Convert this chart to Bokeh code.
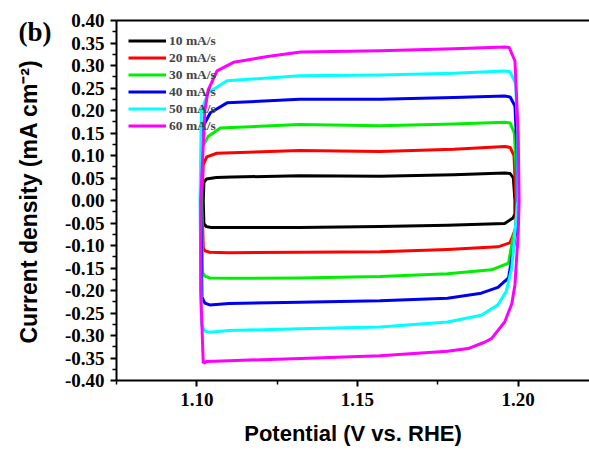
import math
from bokeh.plotting import figure
from bokeh.models import FixedTicker, NumeralTickFormatter, LinearAxis, Label, Range1d
from bokeh.embed import file_html
from bokeh.resources import INLINE

# ---- data ----
series_labels = ["10 mA/s", "20 mA/s", "30 mA/s", "40 mA/s", "50 mA/s", "60 mA/s"]
series_colors = ["#000000", "#FF0000", "#00EE00", "#0000F0", "#00FFFF", "#FF00FF"]

x_10 = [1.1022, 1.1020, 1.1022, 1.1030, 1.1060, 1.1110, 1.1320, 1.1570, 1.1800, 1.1958, 1.1975, 1.1985,
        1.1990, 1.1990, 1.1984, 1.1958, 1.1780, 1.1570, 1.1320, 1.1100, 1.1045, 1.1030, 1.1022]
y_10 = [-0.052, 0.000, 0.040, 0.048, 0.051, 0.052, 0.055, 0.054, 0.057, 0.061, 0.060, 0.050,
        0.000, -0.030, -0.039, -0.051, -0.055, -0.058, -0.060, -0.060, -0.060, -0.058, -0.052]

x_20 = [1.1020, 1.1016, 1.1020, 1.1031, 1.1062, 1.1320, 1.1570, 1.1800, 1.1958, 1.1975, 1.1987, 1.1993,
        1.1993, 1.1980, 1.1974, 1.1937, 1.1780, 1.1570, 1.1320, 1.1100, 1.1040, 1.1025, 1.1020]
y_20 = [-0.105, 0.000, 0.080, 0.097, 0.105, 0.111, 0.109, 0.114, 0.120, 0.118, 0.100, 0.000,
        -0.060, -0.085, -0.094, -0.103, -0.109, -0.114, -0.115, -0.116, -0.115, -0.112, -0.105]

x_30 = [1.1018, 1.1014, 1.1018, 1.1035, 1.1073, 1.1320, 1.1570, 1.1800, 1.1958, 1.1975, 1.1988, 1.1995,
        1.1995, 1.1982, 1.1970, 1.1917, 1.1780, 1.1570, 1.1320, 1.1100, 1.1040, 1.1025, 1.1018]
y_30 = [-0.160, 0.000, 0.120, 0.142, 0.161, 0.169, 0.166, 0.170, 0.174, 0.172, 0.150, 0.050,
        -0.050, -0.090, -0.139, -0.154, -0.163, -0.169, -0.172, -0.173, -0.172, -0.168, -0.160]

x_40 = [1.1016, 1.1012, 1.1016, 1.1042, 1.1094, 1.1320, 1.1570, 1.1800, 1.1958, 1.1975, 1.1990, 1.1997,
        1.1997, 1.1984, 1.1970, 1.1937, 1.1885, 1.1780, 1.1570, 1.1320, 1.1100, 1.1040, 1.1025, 1.1016]
y_40 = [-0.215, 0.000, 0.160, 0.195, 0.217, 0.225, 0.225, 0.229, 0.232, 0.230, 0.210, 0.100,
        -0.050, -0.112, -0.172, -0.193, -0.206, -0.217, -0.223, -0.226, -0.229, -0.232, -0.228, -0.215]

x_50 = [1.1014, 1.1010, 1.1014, 1.1036, 1.1094, 1.1320, 1.1570, 1.1800, 1.1958, 1.1975, 1.1992, 1.1999,
        1.1999, 1.1980, 1.1963, 1.1937, 1.1885, 1.1780, 1.1570, 1.1320, 1.1100, 1.1040, 1.1025, 1.1014]
y_50 = [-0.275, 0.000, 0.200, 0.240, 0.266, 0.277, 0.279, 0.283, 0.288, 0.286, 0.260, 0.150,
        0.000, -0.150, -0.202, -0.232, -0.255, -0.270, -0.281, -0.285, -0.289, -0.293, -0.290, -0.275]

x_60 = [1.1020, 1.1012, 1.1012, 1.1025, 1.1035, 1.1063, 1.1114, 1.1220, 1.1323, 1.1570, 1.1800, 1.1958,
        1.1972, 1.1990, 1.2000, 1.2003, 1.2000, 1.1990, 1.1980, 1.1958, 1.1917, 1.1895, 1.1844, 1.1780,
        1.1570, 1.1323, 1.1100, 1.1030, 1.1020]
y_60 = [-0.362, -0.200, 0.000, 0.200, 0.245, 0.288, 0.307, 0.320, 0.330, 0.333, 0.337, 0.341,
        0.340, 0.310, 0.150, 0.000, -0.075, -0.187, -0.230, -0.270, -0.307, -0.315, -0.329, -0.335,
        -0.345, -0.351, -0.356, -0.358, -0.362]

xs = [x_10, x_20, x_30, x_40, x_50, x_60]
ys = [y_10, y_20, y_30, y_40, y_50, y_60]

x_major = [1.10, 1.15, 1.20]
x_minor = [1.075, 1.125, 1.175, 1.225]
y_major = [-0.40, -0.35, -0.30, -0.25, -0.20, -0.15, -0.10, -0.05, 0.00,
           0.05, 0.10, 0.15, 0.20, 0.25, 0.30, 0.35, 0.40]
y_minor = [-0.375, -0.325, -0.275, -0.225, -0.175, -0.125, -0.075, -0.025,
           0.025, 0.075, 0.125, 0.175, 0.225, 0.275, 0.325, 0.375]

# ---- figure ----
p = figure(width=589, height=451, output_backend="svg", toolbar_location=None,
           x_range=Range1d(1.075, 1.2222), y_range=Range1d(-0.40, 0.40),
           min_border_left=116, min_border_right=0, min_border_top=20, min_border_bottom=71,
           x_axis_label="Potential (V vs. RHE)")
p.outline_line_color = None
p.grid.visible = False
p.background_fill_color = "white"
p.border_fill_color = "white"

for xv, yv, c, lab in zip(xs, ys, series_colors, series_labels):
    p.line(xv, yv, line_color=c, line_width=3, legend_label=lab, line_join="round")

tick_font = "Liberation Serif"
title_font = "Liberation Sans"

xa = p.xaxis[0]
xa.ticker = FixedTicker(ticks=x_major, minor_ticks=x_minor)
xa.formatter = NumeralTickFormatter(format="0.00")
ya = p.yaxis[0]
ya.ticker = FixedTicker(ticks=y_major, minor_ticks=y_minor)
ya.formatter = NumeralTickFormatter(format="0.00")

for ax in (xa, ya):
    ax.axis_line_width = 2
    ax.axis_line_color = "black"
    ax.major_tick_line_width = 2
    ax.minor_tick_line_width = 1.5
    ax.major_tick_out = 6
    ax.major_tick_in = 0
    ax.minor_tick_out = 4
    ax.minor_tick_in = 0
    ax.major_label_text_font = tick_font
    ax.major_label_text_font_style = "bold"
    ax.major_label_text_color = "black"
    ax.axis_label_text_font = title_font
    ax.axis_label_text_font_style = "bold"
    ax.axis_label_text_color = "black"

xa.major_label_text_font_size = "19px"
xa.major_label_standoff = 6
xa.axis_label_standoff = 12
xa.axis_label_text_font_size = "22px"
ya.major_label_text_font_size = "19px"
ya.major_label_standoff = 6
ya.axis_label_standoff = 0

top = LinearAxis(ticker=FixedTicker(ticks=[]), major_label_text_font_size="0px",
                 major_tick_out=0, minor_tick_out=0, major_label_standoff=0,
                 axis_line_width=2, axis_line_color="black")
p.add_layout(top, "above")

lg = p.legend[0]
lg.location = "top_left"
lg.margin = 12
lg.padding = 0
lg.spacing = 0
lg.glyph_height = 17
lg.label_height = 17
lg.glyph_width = 38
lg.label_standoff = 3
lg.label_text_font = tick_font
lg.label_text_font_style = "bold"
lg.label_text_font_size = "13.5px"
lg.background_fill_alpha = 0
lg.border_line_color = None

# y-axis title, drawn as a rotated label in the left margin
y_title = Label(x=28, y=201, x_units="canvas", y_units="canvas",
                text="Current density (mA cm\u207B\u00B2)", angle=math.pi / 2,
                text_font=title_font, text_font_style="bold", text_font_size="23px",
                text_baseline="middle", text_align="center", text_color="black",
                level="overlay")
p.add_layout(y_title, "left")

panel_label = Label(x=18, y=16, x_units="canvas", y_units="canvas", text="(b)",
                    text_font=tick_font, text_font_style="bold", text_font_size="27px",
                    text_baseline="top", text_align="left", text_color="black",
                    level="overlay")
p.add_layout(panel_label, "left")

open("out.html", "w").write(file_html(p, INLINE))
